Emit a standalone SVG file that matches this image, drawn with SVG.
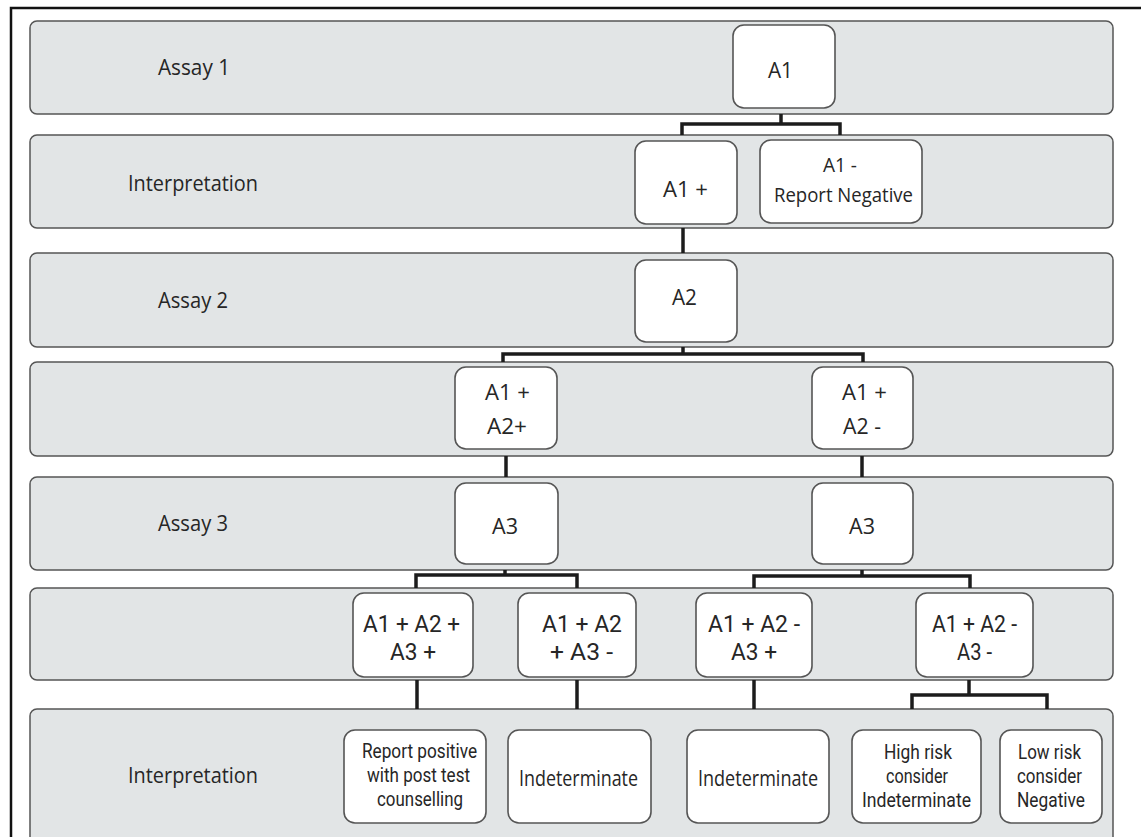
<svg xmlns="http://www.w3.org/2000/svg" width="1141" height="837" viewBox="0 0 1141 837">
  <style>
    .lane { fill: #e2e5e6; stroke: #555555; stroke-width: 1.5; }
    .box { fill: #ffffff; stroke: #555555; stroke-width: 1.6; }
    .link { fill: none; stroke: #1c1c1c; stroke-width: 3.5; stroke-linejoin: miter; stroke-linecap: butt; }
    text { font-family: "Open Sans", "Noto Sans", "Liberation Sans", sans-serif; fill: #262626; }
    .lbl { font-size: 22px; }
    .n21 { font-size: 21px; }
    .n20 { font-size: 20px; }
    /* stacked captions use a font with tighter line metrics */
    .n23 { font-family: Roboto, "Liberation Sans", sans-serif; font-size: 23px; }
    .stack { font-family: Roboto, "Liberation Sans", sans-serif; font-size: 20px; }
  </style>

  <rect x="0" y="0" width="1141" height="837" fill="#ffffff"/>
  <!-- outer frame (top and left edges) -->
  <path d="M11 837 V8 H1141" fill="none" stroke="#111" stroke-width="2.5"/>

  <!-- swimlanes -->
  <g id="lanes">
    <g id="lane-assay1">
      <rect class="lane" x="30" y="21" width="1083" height="93" rx="7"/>
      <text class="lbl" x="158" y="75" textLength="72" lengthAdjust="spacingAndGlyphs">Assay 1</text>
    </g>
    <g id="lane-interp1">
      <rect class="lane" x="30" y="135" width="1083" height="93" rx="7"/>
      <text class="lbl" x="128" y="191" textLength="130" lengthAdjust="spacingAndGlyphs">Interpretation</text>
    </g>
    <g id="lane-assay2">
      <rect class="lane" x="30" y="253" width="1083" height="94" rx="7"/>
      <text class="lbl" x="158" y="308" textLength="70" lengthAdjust="spacingAndGlyphs">Assay 2</text>
    </g>
    <g id="lane-a2-results">
      <rect class="lane" x="30" y="362" width="1083" height="94" rx="7"/>
    </g>
    <g id="lane-assay3">
      <rect class="lane" x="30" y="477" width="1083" height="93" rx="7"/>
      <text class="lbl" x="158" y="531" textLength="70" lengthAdjust="spacingAndGlyphs">Assay 3</text>
    </g>
    <g id="lane-a3-results">
      <rect class="lane" x="30" y="588" width="1083" height="92" rx="7"/>
    </g>
    <g id="lane-interp2">
      <rect class="lane" x="30" y="709" width="1083" height="145" rx="7"/>
      <text class="lbl" x="128" y="783" textLength="130" lengthAdjust="spacingAndGlyphs">Interpretation</text>
    </g>
  </g>

  <!-- connectors (drawn in the gaps between lanes) -->
  <g id="connectors">
    <path class="link" d="M781 114 V124"/>
    <path class="link" d="M682 135 V124 H840 V135"/>
    <path class="link" d="M683 228 V253"/>
    <path class="link" d="M683 347 V354"/>
    <path class="link" d="M503 362 V354 H863 V362"/>
    <path class="link" d="M506 456 V477"/>
    <path class="link" d="M862 456 V477"/>
    <path class="link" d="M505 570 V575"/>
    <path class="link" d="M416 588 V575 H577 V588"/>
    <path class="link" d="M862 570 V576"/>
    <path class="link" d="M754 588 V576 H970 V588"/>
    <path class="link" d="M417 680 V709"/>
    <path class="link" d="M577 680 V709"/>
    <path class="link" d="M754 680 V709"/>
    <path class="link" d="M969 680 V695"/>
    <path class="link" d="M912 709 V695 H1047 V709"/>
  </g>

  <!-- nodes -->
  <g id="node-a1">
    <rect class="box" x="733" y="25" width="102" height="83" rx="11"/>
    <text class="n21" x="768" y="78" textLength="25" lengthAdjust="spacingAndGlyphs">A1</text>
  </g>
  <g id="node-a1-pos">
    <rect class="box" x="635" y="141" width="102" height="83" rx="11"/>
    <text class="n21" x="663" y="197" textLength="45" lengthAdjust="spacingAndGlyphs">A1 +</text>
  </g>
  <g id="node-a1-neg">
    <rect class="box" x="760" y="140" width="162" height="83" rx="11"/>
    <text class="n20" x="823" y="172" textLength="34" lengthAdjust="spacingAndGlyphs">A1 -</text>
    <text class="n20" x="774" y="202" textLength="139" lengthAdjust="spacingAndGlyphs">Report Negative</text>
  </g>
  <g id="node-a2">
    <rect class="box" x="635" y="260" width="102" height="82" rx="11"/>
    <text class="n21" x="672" y="305" textLength="25" lengthAdjust="spacingAndGlyphs">A2</text>
  </g>
  <g id="node-a1p-a2p">
    <rect class="box" x="455" y="367" width="102" height="82" rx="11"/>
    <text class="n21" x="485" y="400" textLength="45" lengthAdjust="spacingAndGlyphs">A1 +</text>
    <text class="n21" x="487" y="434" textLength="40" lengthAdjust="spacingAndGlyphs">A2+</text>
  </g>
  <g id="node-a1p-a2n">
    <rect class="box" x="812" y="367" width="101" height="82" rx="11"/>
    <text class="n21" x="842" y="400" textLength="45" lengthAdjust="spacingAndGlyphs">A1 +</text>
    <text class="n21" x="843" y="434" textLength="38" lengthAdjust="spacingAndGlyphs">A2 -</text>
  </g>
  <g id="node-a3-left">
    <rect class="box" x="455" y="483" width="103" height="81" rx="11"/>
    <text class="n21" x="492" y="534" textLength="26" lengthAdjust="spacingAndGlyphs">A3</text>
  </g>
  <g id="node-a3-right">
    <rect class="box" x="812" y="483" width="101" height="81" rx="11"/>
    <text class="n21" x="849" y="534" textLength="26" lengthAdjust="spacingAndGlyphs">A3</text>
  </g>
  <g id="node-ppp">
    <rect class="box" x="353" y="593" width="120" height="84" rx="11"/>
    <text class="n23" x="363" y="632" textLength="97" lengthAdjust="spacingAndGlyphs">A1 + A2 +</text>
    <text class="n23" x="390" y="660" textLength="46" lengthAdjust="spacingAndGlyphs">A3 +</text>
  </g>
  <g id="node-ppn">
    <rect class="box" x="518" y="593" width="118" height="84" rx="11"/>
    <text class="n23" x="542" y="632" textLength="80" lengthAdjust="spacingAndGlyphs">A1 + A2</text>
    <text class="n23" x="550" y="660" textLength="63" lengthAdjust="spacingAndGlyphs">+ A3 -</text>
  </g>
  <g id="node-pnp">
    <rect class="box" x="696" y="593" width="116" height="84" rx="11"/>
    <text class="n23" x="708" y="632" textLength="92" lengthAdjust="spacingAndGlyphs">A1 + A2 -</text>
    <text class="n23" x="731" y="660" textLength="46" lengthAdjust="spacingAndGlyphs">A3 +</text>
  </g>
  <g id="node-pnn">
    <rect class="box" x="916" y="593" width="117" height="84" rx="11"/>
    <text class="n23" x="932" y="632" textLength="85" lengthAdjust="spacingAndGlyphs">A1 + A2 -</text>
    <text class="n23" x="957" y="660" textLength="35" lengthAdjust="spacingAndGlyphs">A3 -</text>
  </g>
  <g id="node-report-positive">
    <rect class="box" x="344" y="730" width="142" height="93" rx="11"/>
    <text class="stack" x="362" y="758" textLength="115" lengthAdjust="spacingAndGlyphs">Report positive</text>
    <text class="stack" x="367" y="782" textLength="103" lengthAdjust="spacingAndGlyphs">with post test</text>
    <text class="stack" x="377" y="806" textLength="86" lengthAdjust="spacingAndGlyphs">counselling</text>
  </g>
  <g id="node-indeterminate-1">
    <rect class="box" x="508" y="730" width="143" height="93" rx="11"/>
    <text class="n21" x="519" y="786" textLength="119" lengthAdjust="spacingAndGlyphs">Indeterminate</text>
  </g>
  <g id="node-indeterminate-2">
    <rect class="box" x="687" y="730" width="142" height="93" rx="11"/>
    <text class="n21" x="698" y="786" textLength="120" lengthAdjust="spacingAndGlyphs">Indeterminate</text>
  </g>
  <g id="node-high-risk">
    <rect class="box" x="852" y="730" width="129" height="93" rx="11"/>
    <text class="stack" x="884" y="759" textLength="68" lengthAdjust="spacingAndGlyphs">High risk</text>
    <text class="stack" x="886" y="783" textLength="62" lengthAdjust="spacingAndGlyphs">consider</text>
    <text class="stack" x="862" y="807" textLength="109" lengthAdjust="spacingAndGlyphs">Indeterminate</text>
  </g>
  <g id="node-low-risk">
    <rect class="box" x="1000" y="730" width="102" height="93" rx="11"/>
    <text class="stack" x="1018" y="759" textLength="63" lengthAdjust="spacingAndGlyphs">Low risk</text>
    <text class="stack" x="1017" y="783" textLength="65" lengthAdjust="spacingAndGlyphs">consider</text>
    <text class="stack" x="1017" y="807" textLength="68" lengthAdjust="spacingAndGlyphs">Negative</text>
  </g>
</svg>
